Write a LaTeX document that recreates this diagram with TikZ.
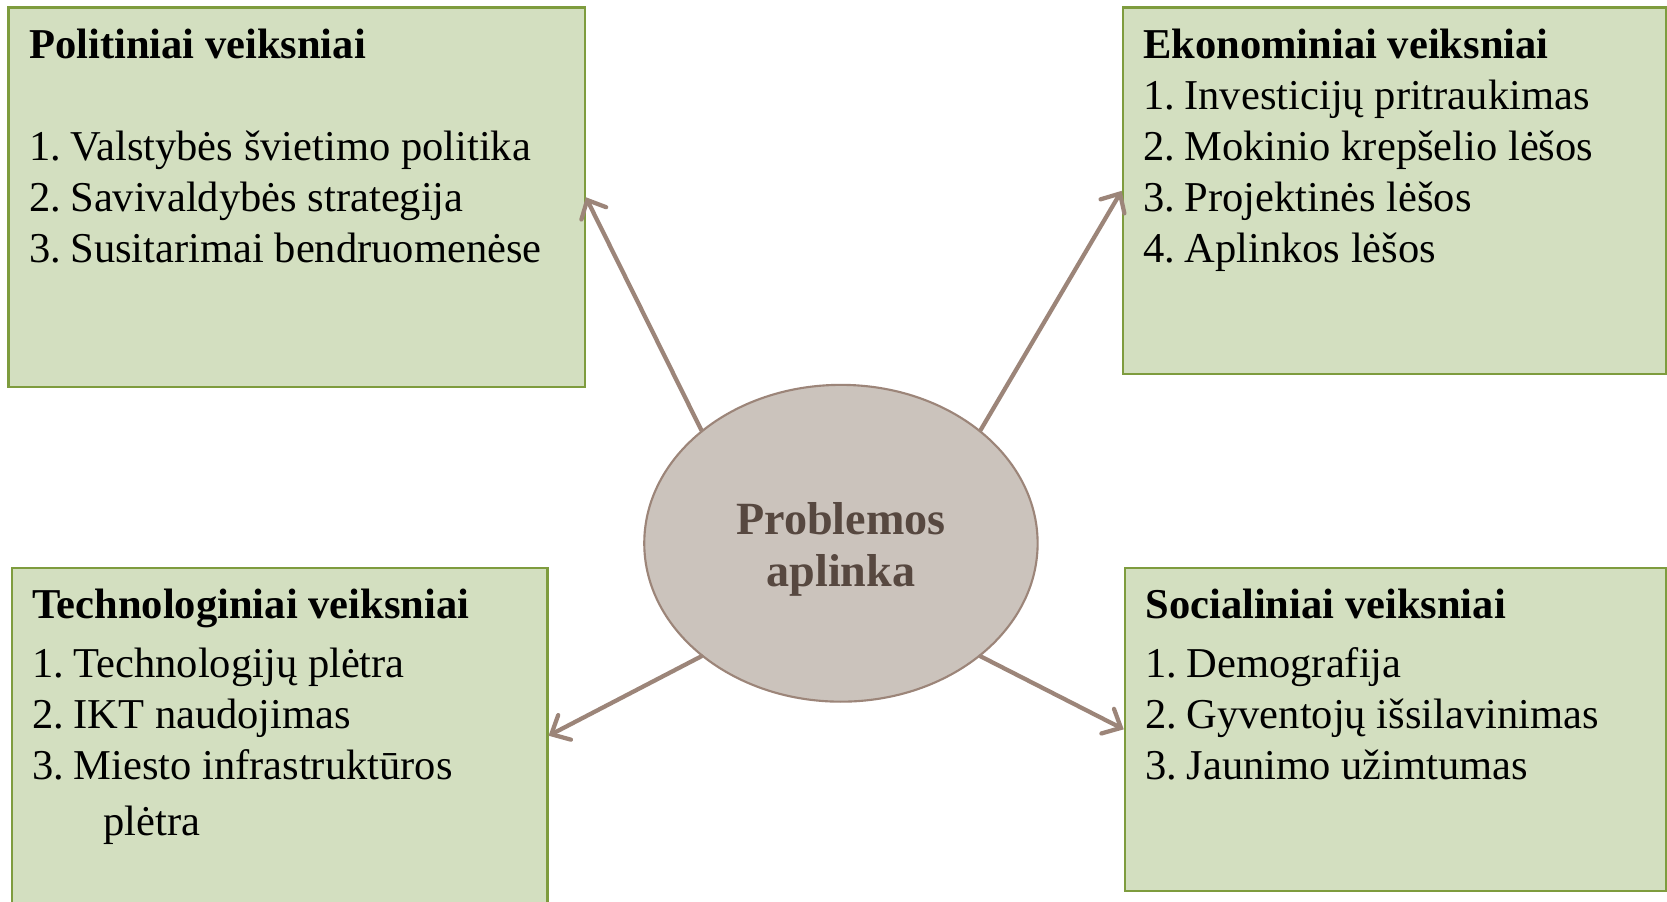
\documentclass[tikz,border=0pt]{standalone}
\usepackage{fontspec}
\setmainfont{Liberation Serif}
\usetikzlibrary{shapes.geometric,arrows.meta}
\definecolor{boxfill}{HTML}{D3DFC0}
\definecolor{boxline}{HTML}{7E9C3E}
\definecolor{ellfill}{HTML}{CBC3BC}
\definecolor{ellline}{HTML}{9C8579}
\definecolor{arrowc}{HTML}{9C8579}
\definecolor{elltext}{HTML}{574840}
\newcommand\itm[1]{#1.\hspace{0.22em}}
\tikzset{
  factorbox/.style={draw=boxline, fill=boxfill, line width=1pt, inner sep=0pt, rectangle},
  line/.style={anchor=base west, inner sep=0pt, font=\fontsize{20}{22}\selectfont},
  head/.style={line, font=\fontsize{20}{22}\selectfont\bfseries},
  link/.style={draw=arrowc, line width=2pt, line cap=round,
    -{Straight Barb[length=7pt,width=13pt,line cap=round]}},
}
\begin{document}
\begin{tikzpicture}[x=0.5pt,y=-0.5pt]
\useasboundingbox (0,0) rectangle (1568,847.5);
\clip (0,0) rectangle (1568,847.5);
\fill[white] (0,0) rectangle (1568,847.5);
% boxes
\node[factorbox, minimum width=271pt, minimum height=178.5pt] (tl) at (279,185.5) {};
\node[factorbox, minimum width=255.5pt, minimum height=172.5pt] (tr) at (1311.5,179.5) {};
\node[factorbox, minimum width=252pt, minimum height=158pt] (bl) at (263,692) {};
\node[factorbox, minimum width=254.5pt, minimum height=152pt] (br) at (1312.5,686) {};
% centre
\node[ellipse, draw=ellline, fill=ellfill, line width=1pt, minimum width=185pt, minimum height=149pt] (ell) at (791,511) {};
\node[align=center, text=elltext, inner sep=0pt, font=\fontsize{21.7}{24.5}\selectfont\bfseries] (elltxt) at (791,517) {Problemos\\aplinka};
% texts top-left
\node[head] (tl0) at (27,55) {Politiniai veiksniai};
\node[line] (tl1) at (27,151) {\itm{1}Valstybės švietimo politika};
\node[line] (tl2) at (27,199) {\itm{2}Savivaldybės strategija};
\node[line] (tl3) at (27,247) {\itm{3}Susitarimai bendruomenėse};
% top-right
\node[head] (tr0) at (1075,55) {Ekonominiai veiksniai};
\node[line] (tr1) at (1075,103) {\itm{1}Investicijų pritraukimas};
\node[line] (tr2) at (1075,151) {\itm{2}Mokinio krepšelio lėšos};
\node[line] (tr3) at (1075,199) {\itm{3}Projektinės lėšos};
\node[line] (tr4) at (1075,247) {\itm{4}Aplinkos lėšos};
% bottom-left
\node[head] (bl0) at (30,582) {Technologiniai veiksniai};
\node[line] (bl1) at (30,637) {\itm{1}Technologijų plėtra};
\node[line] (bl2) at (30,685) {\itm{2}IKT naudojimas};
\node[line] (bl3) at (30,733) {\itm{3}Miesto infrastruktūros};
\node[line] (bl4) at (97,786) {plėtra};
% bottom-right
\node[head] (br0) at (1077,582) {Socialiniai veiksniai};
\node[line] (br1) at (1077,637) {\itm{1}Demografija};
\node[line] (br2) at (1077,685) {\itm{2}Gyventojų išsilavinimas};
\node[line] (br3) at (1077,733) {\itm{3}Jaunimo užimtumas};
% arrows
\draw[link] (ell.141) -- (tl.east);
\draw[link] (ell.39) -- (tr.west);
\draw[link] (ell.219) -- (bl.east);
\draw[link] (ell.321) -- (br.west);
\end{tikzpicture}
\end{document}
